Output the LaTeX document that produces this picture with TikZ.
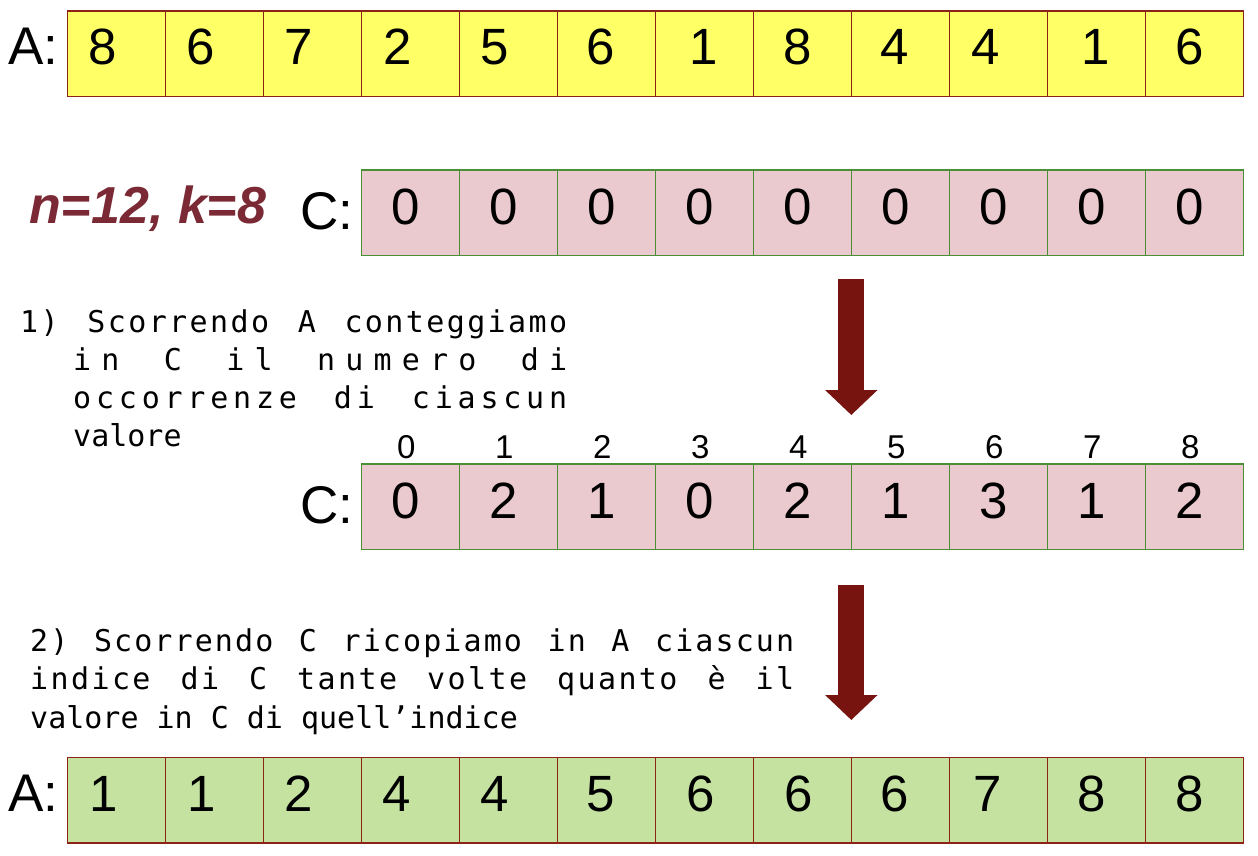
\documentclass[tikz,border=0pt]{standalone}
\usepackage{fontspec}
\setmainfont{Liberation Sans}
\newfontfamily\notefont{DejaVu Sans Mono}
\usetikzlibrary{arrows.meta,positioning}

\definecolor{cellyellow}{HTML}{FFFF66}
\definecolor{cellpink}{HTML}{EACACE}
\definecolor{cellgreen}{HTML}{C5E2A1}
\definecolor{edgered}{HTML}{8B2415}
\definecolor{edgegreen}{HTML}{4A8F35}
\definecolor{arrowred}{HTML}{771410}
\definecolor{notered}{HTML}{7B2A35}

\newcommand{\jline}[3]{{\addfontfeature{LetterSpace=#1}\spaceskip=\fontdimen2\font plus 1fil\makebox[#2][s]{#3}}}

\tikzset{
  cell/.style={draw, line width=1.5pt, inner sep=0pt, outer sep=0pt, anchor=north west,
    minimum width=98pt, text height=54pt, text depth=31.5pt, font=\fontsize{51}{51}\selectfont},
  acell/.style={cell, fill=cellyellow, draw=edgered},
  ccell/.style={cell, fill=cellpink, draw=edgegreen, execute at end node={\hspace*{10pt}}},
  scell/.style={cell, fill=cellgreen, draw=edgered},
  arrname/.style={font=\fontsize{53}{53}\selectfont, anchor=base east, inner sep=0pt},
  idx/.style={font=\fontsize{33}{33}\selectfont, anchor=base, inner sep=0pt},
  note/.style={font=\notefont\fontsize{30}{38}\selectfont, anchor=base west, inner sep=0pt},
  bigarrow/.style={arrowred, line width=26pt, -{Triangle[width=51pt,length=25pt]}}
}

\begin{document}
\begin{tikzpicture}[x=1pt, y=-1pt]
    \useasboundingbox (0,0) rectangle (1258,856);

    \foreach \v/\w [count=\i] in {8/28,6/28,7/28,2/26,5/28,6/12,1/2,8/10,4/12,4/26,1/2,6/10}
        \node [acell] (a\i) at ({67.3+98*(\i-1)}, 11) {\v\hspace*{\w pt}};
    \node [arrname] (la) at ([xshift=-9pt]a1.base west) {A:};

    \node [anchor=base west, inner sep=0pt, text=notered, font=\bfseries\itshape\fontsize{52}{52}\selectfont] (nk) at (29,223) {n=12, k=8};

    \foreach \v [count=\i] in {0,0,0,0,0,0,0,0,0}
        \node [ccell] (c\i) at ({361.3+98*(\i-1)}, 170) {\v};
    \node [arrname] (lc) at ([xshift=-8pt, yshift=-5pt]c1.base west) {C:};

    \node [note] (p1) at (20,332) {\jline{8}{547pt}{1) Scorrendo A conteggiamo}};
    \node [note] (p2) at (73,370) {\jline{34}{494pt}{in C il numero di}};
    \node [note] (p3) at (73,408) {\jline{16}{494pt}{occorrenze di ciascun}};
    \node [note] (p4) at (73,446) {valore};

    \foreach \v [count=\i] in {0,2,1,0,2,1,3,1,2}
        \node [ccell] (cc\i) at ({361.3+98*(\i-1)}, 464) {\v};
    \foreach \i [evaluate=\i as \k using int(\i-1)] in {1,...,9}
        \node [idx] (i\i) at ([xshift=-4pt, yshift=5.7pt]cc\i.north) {\k};
    \node [arrname] (lcc) at ([xshift=-8pt, yshift=-5pt]cc1.base west) {C:};

    \node [note] (q1) at (30,651) {\jline{7}{764pt}{2) Scorrendo C ricopiamo in A ciascun}};
    \node [note] (q2) at (30,689.5) {\jline{8}{764pt}{indice di C tante volte quanto è il}};
    \node [note] (q3) at (30,728) {valore in C di quell’indice};

    \foreach \v/\w [count=\i] in {1/26,1/26,2/28,4/28,4/28,5/12,6/8,6/8,6/12,7/22,8/10,8/10}
        \node [scell] (s\i) at ({67.3+98*(\i-1)}, 757.3) {\v\hspace*{\w pt}};
    \node [arrname] (ls) at ([xshift=-9pt]s1.base west) {A:};

    \draw [bigarrow] ([yshift=-23pt]c5.south east) -- ([yshift=49pt]cc5.north east);
    \draw [bigarrow] ([yshift=-35.5pt]cc5.south east) -- ([yshift=37.3pt]s8.north east);
\end{tikzpicture}
\end{document}
